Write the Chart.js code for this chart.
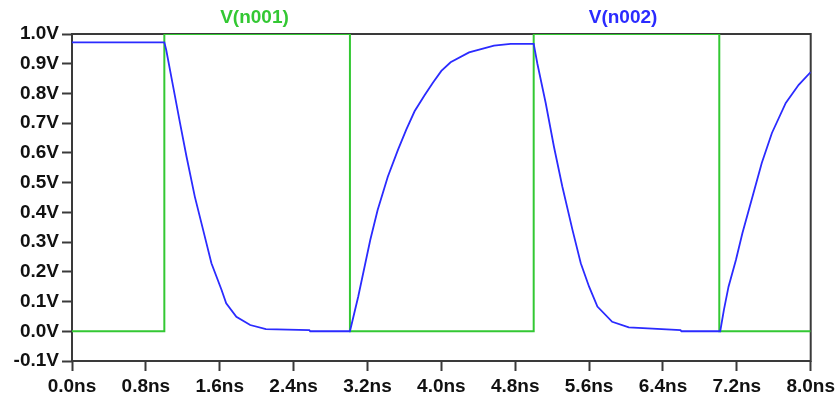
<!DOCTYPE html>
<html>
<head>
<meta charset="utf-8">
<script src="https://cdn.jsdelivr.net/npm/chart.js@4/dist/chart.umd.min.js"></script>
<style>
  html, body { margin: 0; padding: 0; background: #fff; }
  #wrap { width: 839px; height: 398px; }
</style>
</head>
<body>
<div id="wrap"><canvas id="wave" width="839" height="398"></canvas></div>
<script>
// trace names, as LTspice labels them
const traceNames = ['V(n001)', 'V(n002)'];

// V(n001): the input pulse
const n001Time = [0, 1.0, 1.0, 3.01, 3.01, 5.0, 5.0, 7.01, 7.01, 8.0];
const n001Volt = [0, 0, 1.0, 1.0, 0, 0, 1.0, 1.0, 0, 0];

// V(n002): the response
const n002Time = [0, 1.0, 1.02, 1.095, 1.17, 1.24, 1.33, 1.42, 1.51, 1.62, 1.67, 1.78, 1.93, 2.10, 2.57, 2.58, 3.01,
                  3.10, 3.23, 3.31, 3.42, 3.53, 3.62, 3.71, 3.82, 3.91, 4.0, 4.10, 4.30, 4.57, 4.75, 5.0,
                  5.04, 5.13, 5.22, 5.31, 5.42, 5.51, 5.60, 5.69, 5.85, 6.03, 6.59, 6.60, 7.02,
                  7.06, 7.11, 7.19, 7.26, 7.37, 7.47, 7.58, 7.73, 7.87, 8.0];
const n002Volt = [0.972, 0.972, 0.947, 0.824, 0.70, 0.588, 0.453, 0.341, 0.229, 0.139, 0.094, 0.049, 0.021, 0.007, 0.004, 0.0, 0.0,
                  0.117, 0.307, 0.408, 0.52, 0.61, 0.678, 0.74, 0.795, 0.837, 0.876, 0.905, 0.938, 0.961, 0.967, 0.967,
                  0.90, 0.768, 0.62, 0.487, 0.341, 0.229, 0.15, 0.083, 0.032, 0.013, 0.004, 0.0, 0.0,
                  0.072, 0.15, 0.24, 0.33, 0.453, 0.566, 0.667, 0.768, 0.829, 0.872];

// axis ticks
const xTicks = [0, 0.8, 1.6, 2.4, 3.2, 4.0, 4.8, 5.6, 6.4, 7.2, 8.0];
const yTicks = [-0.1, 0, 0.1, 0.2, 0.3, 0.4, 0.5, 0.6, 0.7, 0.8, 0.9, 1.0];

const GREEN = '#33c833';
const BLUE = '#2b2bff';
const FRAME = '#3a3a3a';
const FONT = { family: 'Liberation Sans, Arial, sans-serif', size: 19, weight: 'bold' };

function toPoints(xs, ys) {
    return xs.map((x, i) => ({ x: x, y: ys[i] }));
}

// box around the plot area, drawn under the traces
const framePlugin = {
    id: 'frame',
    beforeDatasetsDraw(chart) {
        const a = chart.chartArea;
        const ctx = chart.ctx;
        ctx.save();
        ctx.strokeStyle = FRAME;
        ctx.lineWidth = 2;
        ctx.strokeRect(a.left, a.top, a.right - a.left, a.bottom - a.top);
        ctx.restore();
    }
};

// trace names above the plot
const traceLabelPlugin = {
    id: 'traceLabels',
    afterDraw(chart) {
        const a = chart.chartArea;
        const ctx = chart.ctx;
        const w = a.right - a.left;
        ctx.save();
        ctx.font = 'bold 19px "Liberation Sans", Arial, sans-serif';
        ctx.textAlign = 'center';
        ctx.textBaseline = 'middle';
        ctx.fillStyle = GREEN;
        ctx.fillText(traceNames[0], a.left + w * 0.247, 18);
        ctx.fillStyle = BLUE;
        ctx.fillText(traceNames[1], a.left + w * 0.746, 18);
        ctx.restore();
    }
};

const ctx = document.getElementById('wave').getContext('2d');
new Chart(ctx, {
    type: 'line',
    data: {
        datasets: [
            {
                label: traceNames[1],
                data: toPoints(n002Time, n002Volt),
                borderColor: BLUE,
                borderWidth: 1.8,
                pointRadius: 0,
                tension: 0
            },
            {
                label: traceNames[0],
                data: toPoints(n001Time, n001Volt),
                borderColor: GREEN,
                borderWidth: 2,
                pointRadius: 0,
                tension: 0
            }
        ]
    },
    options: {
        responsive: false,
        animation: false,
        devicePixelRatio: 1,
        layout: { padding: { top: 34, right: 27, left: 0, bottom: 0 } },
        plugins: {
            legend: { display: false },
            tooltip: { enabled: false }
        },
        scales: {
            x: {
                type: 'linear',
                min: 0,
                max: 8,
                afterBuildTicks: scale => { scale.ticks = xTicks.map(v => ({ value: v })); },
                afterFit: scale => { scale.height = 37; },
                grid: { display: true, drawOnChartArea: false, drawTicks: true, tickLength: 10, tickWidth: 2, color: FRAME },
                border: { display: false },
                ticks: {
                    color: '#111',
                    font: FONT,
                    padding: 4,
                    maxRotation: 0,
                    autoSkip: false,
                    callback: v => v.toFixed(1) + 'ns'
                }
            },
            y: {
                min: -0.1,
                max: 1.0,
                afterBuildTicks: scale => { scale.ticks = yTicks.map(v => ({ value: v })); },
                afterFit: scale => { scale.width = 72; },
                grid: { display: true, drawOnChartArea: false, drawTicks: true, tickLength: 10, tickWidth: 2, color: FRAME },
                border: { display: false },
                ticks: {
                    color: '#111',
                    font: FONT,
                    padding: 3,
                    autoSkip: false,
                    callback: v => v.toFixed(1) + 'V'
                }
            }
        }
    },
    plugins: [framePlugin, traceLabelPlugin]
});
</script>
</body>
</html>
